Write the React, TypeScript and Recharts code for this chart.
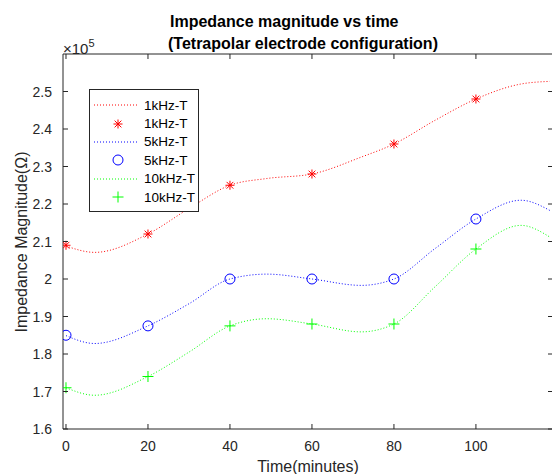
import React from 'react';
import { LineChart, Line, XAxis, YAxis, Legend, ReferenceArea } from 'recharts';

// measured impedance (ohm) at each sampling time
const times = [0, 20, 40, 60, 80, 100];
const khz1 = [209000, 212000, 225000, 228000, 236000, 248000];
const khz5 = [185000, 187500, 200000, 200000, 200000, 216000];
const khz10 = [171000, 174000, 187500, 188000, 188000, 208000];

// dotted fit curves
const curveTimes = [0, 7, 20, 30, 40, 49, 60, 72, 80, 90, 100, 111, 118];
const curve1 = [208800, 207100, 212000, 218800, 225000, 226800, 228000, 232500, 236000, 242300, 248000, 252000, 252700];
const curve5 = [184900, 182800, 187500, 193400, 200000, 201300, 200000, 198300, 200000, 208100, 216000, 221000, 218300];
const curve10 = [171000, 169000, 174000, 180500, 187500, 189400, 188000, 185900, 188000, 197900, 208000, 214300, 211200];

const xTicks = [0, 20, 40, 60, 80, 100];
const yTicks = [160000, 170000, 180000, 190000, 200000, 210000, 220000, 230000, 240000, 250000];

const RED = '#ff0000';
const BLUE = '#0000ff';
const GREEN = '#00ff00';
const AXIS = '#262626';
const FONT = '"Liberation Sans", Arial, sans-serif';

const PLOT_TOP = 54;
const PLOT_BOTTOM = 429;
const PLOT_LEFT = 63;
const PLOT_RIGHT = 553;
const X_DOMAIN: [number, number] = [-0.73, 118.8];
const Y_DOMAIN: [number, number] = [160000, 260000];

const toRows = (xs: number[], ys: number[]) => xs.map((t, i) => ({ t, v: ys[i] }));

const Star = ({ cx, cy, color = RED, s = 4.5 }: any) => (
  <g stroke={color} strokeWidth={1}>
    <line x1={cx - s} x2={cx + s} y1={cy} y2={cy} />
    <line x1={cx} x2={cx} y1={cy - s} y2={cy + s} />
    <line x1={cx - s * 0.75} x2={cx + s * 0.75} y1={cy - s * 0.75} y2={cy + s * 0.75} />
    <line x1={cx - s * 0.75} x2={cx + s * 0.75} y1={cy + s * 0.75} y2={cy - s * 0.75} />
  </g>
);
const Circle = ({ cx, cy }: any) => <circle cx={cx} cy={cy} r={5} fill="none" stroke={BLUE} strokeWidth={1} />;
const Plus = ({ cx, cy }: any) => (
  <g stroke={GREEN} strokeWidth={1}>
    <line x1={cx - 5.5} x2={cx + 5.5} y1={cy} y2={cy} />
    <line x1={cx} x2={cx} y1={cy - 5.5} y2={cy + 5.5} />
  </g>
);

const XTick = (props: any) => {
  const { x, payload } = props;
  return (
    <g>
      <line x1={x} x2={x} y1={PLOT_BOTTOM} y2={PLOT_BOTTOM - 5} stroke={AXIS} />
      <line x1={x} x2={x} y1={PLOT_TOP} y2={PLOT_TOP + 5} stroke={AXIS} />
      <text x={x} y={446} textAnchor="middle" dominantBaseline="central" fill={AXIS}
        style={{ fontFamily: FONT, fontSize: 14 }}>{payload.value}</text>
    </g>
  );
};

const YTick = (props: any) => {
  const { y, payload } = props;
  return (
    <g>
      <line x1={PLOT_LEFT} x2={PLOT_LEFT + 5} y1={y} y2={y} stroke={AXIS} />
      <line x1={PLOT_RIGHT} x2={PLOT_RIGHT - 5} y1={y} y2={y} stroke={AXIS} />
      <text x={52} y={y} textAnchor="end" dominantBaseline="central" fill={AXIS}
        style={{ fontFamily: FONT, fontSize: 14 }}>{String(+(payload.value / 1e5).toFixed(1))}</text>
    </g>
  );
};

const legendRows = [
  { label: '1kHz-T', color: RED, marker: null },
  { label: '1kHz-T', color: RED, marker: 'star' },
  { label: '5kHz-T', color: BLUE, marker: null },
  { label: '5kHz-T', color: BLUE, marker: 'circle' },
  { label: '10kHz-T', color: GREEN, marker: null },
  { label: '10kHz-T', color: GREEN, marker: 'plus' },
];

const LegendBox = () => (
  <div style={{ border: `1px solid ${AXIS}`, background: '#fff', width: 108, height: 115, paddingTop: 6, boxSizing: 'content-box' }}>
    {legendRows.map((r, i) => (
      <div key={i} style={{ display: 'flex', alignItems: 'center', height: 18.4 }}>
        <svg width={52} height={18} style={{ flex: 'none' }}>
          {r.marker === null && (
            <line x1={4} x2={48} y1={9} y2={9} stroke={r.color} strokeDasharray="1 2" />
          )}
          {r.marker === 'star' && <Star cx={28} cy={9} />}
          {r.marker === 'circle' && <Circle cx={28} cy={9} />}
          {r.marker === 'plus' && <Plus cx={28} cy={9} />}
        </svg>
        <span style={{ fontFamily: FONT, fontSize: 13.5, color: '#000', marginLeft: 2 }}>{r.label}</span>
      </div>
    ))}
  </div>
);

export default function App() {
  return (
    <div style={{ position: 'absolute', left: 0, top: 0, width: 552, height: 474, overflow: 'hidden', background: '#fff' }}>
      <LineChart width={560} height={474} margin={{ top: PLOT_TOP, right: 560 - PLOT_RIGHT, bottom: 0, left: 0 }}>
        <XAxis dataKey="t" type="number" domain={X_DOMAIN} ticks={xTicks} allowDataOverflow
          height={474 - PLOT_BOTTOM} axisLine={false} tickLine={false} tick={<XTick />} interval={0} />
        <YAxis type="number" domain={Y_DOMAIN} ticks={yTicks} allowDataOverflow
          width={PLOT_LEFT} axisLine={false} tickLine={false} tick={<YTick />} interval={0} />
        <ReferenceArea x1={X_DOMAIN[0]} x2={X_DOMAIN[1]} y1={Y_DOMAIN[0]} y2={Y_DOMAIN[1]}
          fill="none" stroke={AXIS} strokeWidth={1} />
        <Line data={toRows(curveTimes, curve1)} dataKey="v" type="monotoneX" stroke={RED} strokeWidth={1}
          strokeDasharray="1 2" dot={false} activeDot={false} isAnimationActive={false} />
        <Line data={toRows(curveTimes, curve5)} dataKey="v" type="monotoneX" stroke={BLUE} strokeWidth={1}
          strokeDasharray="1 2" dot={false} activeDot={false} isAnimationActive={false} />
        <Line data={toRows(curveTimes, curve10)} dataKey="v" type="monotoneX" stroke={GREEN} strokeWidth={1}
          strokeDasharray="1 2" dot={false} activeDot={false} isAnimationActive={false} />
        <Line data={toRows(times, khz1)} dataKey="v" stroke="none" activeDot={false} isAnimationActive={false}
          dot={(p: any) => <Star key={p.index} cx={p.cx} cy={p.cy} />} />
        <Line data={toRows(times, khz5)} dataKey="v" stroke="none" activeDot={false} isAnimationActive={false}
          dot={(p: any) => <Circle key={p.index} cx={p.cx} cy={p.cy} />} />
        <Line data={toRows(times, khz10)} dataKey="v" stroke="none" activeDot={false} isAnimationActive={false}
          dot={(p: any) => <Plus key={p.index} cx={p.cx} cy={p.cy} />} />
        <Legend layout="vertical" align="center" verticalAlign="middle" content={() => <LegendBox />}
          wrapperStyle={{ left: 89, top: 89, width: 110, height: 123 }} />
      </LineChart>
      <div style={{ position: 'absolute', left: 0, top: 11, width: 552, fontFamily: FONT, fontWeight: 'bold', fontSize: 16, color: '#000', lineHeight: '22px' }}>
        <div style={{ position: 'absolute', left: 170, top: 0, whiteSpace: 'nowrap' }}>Impedance magnitude vs time</div>
        <div style={{ position: 'absolute', left: 168, top: 22, whiteSpace: 'nowrap' }}>(Tetrapolar electrode configuration)</div>
      </div>
      <div style={{ position: 'absolute', left: 63, top: 35, fontFamily: FONT, fontSize: 15, color: AXIS, whiteSpace: 'nowrap', lineHeight: '18px' }}>
        ×10<sup style={{ fontSize: 11, position: 'relative', top: -1 }}>5</sup>
      </div>
      <div style={{ position: 'absolute', left: 308, top: 467, transform: 'translate(-50%, -50%)', fontFamily: FONT, fontSize: 16, color: AXIS, whiteSpace: 'nowrap' }}>
        Time(minutes)
      </div>
      <div style={{ position: 'absolute', left: 22, top: 242, transform: 'translate(-50%, -50%) rotate(-90deg)', fontFamily: FONT, fontSize: 16, color: AXIS, whiteSpace: 'nowrap' }}>
        Impedance Magnitude(Ω)
      </div>
    </div>
  );
}
